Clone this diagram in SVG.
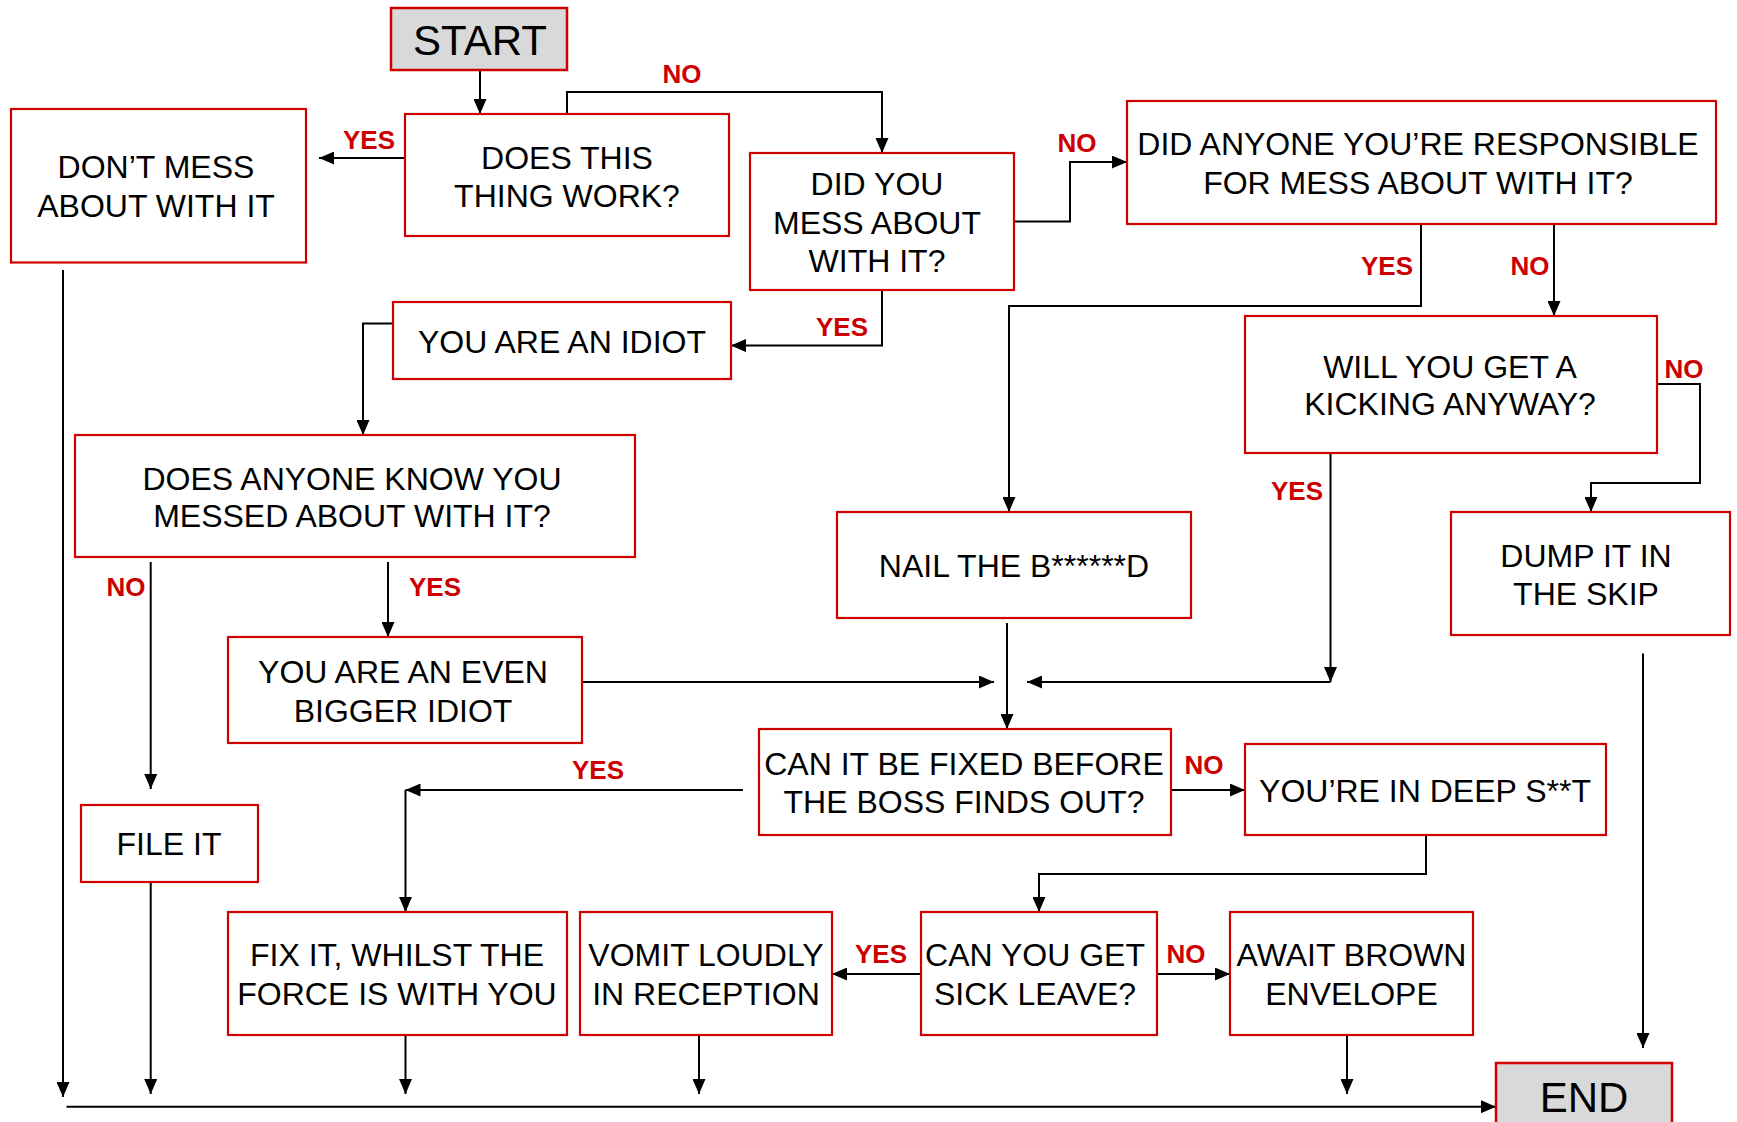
<svg xmlns="http://www.w3.org/2000/svg" width="1737" height="1122" viewBox="0 0 1737 1122">
<style>
.box{fill:#fff;stroke:#d00000;stroke-width:2.2}
.term{fill:#d9d9d9;stroke:#d00000;stroke-width:2.5}
.t{font-family:"Liberation Sans",Arial,sans-serif;font-size:32px;fill:#000;text-anchor:middle}
.big{font-family:"Liberation Sans",Arial,sans-serif;font-size:42px;fill:#000;text-anchor:middle}
.lab{font-family:"Liberation Sans",Arial,sans-serif;font-size:26px;font-weight:bold;fill:#cc0000;text-anchor:middle}
.c{fill:none;stroke:#000;stroke-width:2}
</style>
<defs>
<marker id="ah" viewBox="0 0 15 13" refX="15" refY="6.5" markerWidth="15" markerHeight="13" markerUnits="userSpaceOnUse" orient="auto">
<path d="M0,0 L15,6.5 L0,13 z" fill="#000"/>
</marker>
</defs>
<rect width="1737" height="1122" fill="#fff"/>
<g id="connectors">
<path class="c" d="M480,70 V114" marker-end="url(#ah)"/>
<path class="c" d="M567,114 V92 H882 V153" marker-end="url(#ah)"/>
<path class="c" d="M405,158 H319" marker-end="url(#ah)"/>
<path class="c" d="M1014,221.5 H1070 V162 H1127" marker-end="url(#ah)"/>
<path class="c" d="M882,290 V345.6 H731" marker-end="url(#ah)"/>
<path class="c" d="M393,323.5 H363 V435" marker-end="url(#ah)"/>
<path class="c" d="M1421,224 V306 H1009 V512" marker-end="url(#ah)"/>
<path class="c" d="M1554,224 V316" marker-end="url(#ah)"/>
<path class="c" d="M1657,384 H1700 V483 H1591 V512" marker-end="url(#ah)"/>
<path class="c" d="M1330.5,453 V682" marker-end="url(#ah)"/>
<path class="c" d="M1330.5,682 H1027" marker-end="url(#ah)"/>
<path class="c" d="M150.7,562 V789" marker-end="url(#ah)"/>
<path class="c" d="M388,562 V637" marker-end="url(#ah)"/>
<path class="c" d="M582,682 H994" marker-end="url(#ah)"/>
<path class="c" d="M1007,623 V729" marker-end="url(#ah)"/>
<path class="c" d="M743,790 H405.5" marker-end="url(#ah)"/>
<path class="c" d="M405.5,790 V912" marker-end="url(#ah)"/>
<path class="c" d="M1171,790 H1245" marker-end="url(#ah)"/>
<path class="c" d="M1426,835 V874 H1039 V912" marker-end="url(#ah)"/>
<path class="c" d="M921,974 H832" marker-end="url(#ah)"/>
<path class="c" d="M1157,974 H1230" marker-end="url(#ah)"/>
<path class="c" d="M63,270 V1097" marker-end="url(#ah)"/>
<path class="c" d="M150.7,882 V1094" marker-end="url(#ah)"/>
<path class="c" d="M405.5,1035 V1094" marker-end="url(#ah)"/>
<path class="c" d="M699,1035 V1094" marker-end="url(#ah)"/>
<path class="c" d="M1347,1035 V1094" marker-end="url(#ah)"/>
<path class="c" d="M1643,653.6 V1048" marker-end="url(#ah)"/>
<path class="c" d="M66.5,1106.7 H1496" stroke-width="2.5" marker-end="url(#ah)"/>
</g>
<g id="labels">
<text class="lab" x="682" y="83">NO</text>
<text class="lab" x="369" y="149">YES</text>
<text class="lab" x="1077" y="152">NO</text>
<text class="lab" x="842" y="336">YES</text>
<text class="lab" x="1387" y="275">YES</text>
<text class="lab" x="1530" y="275">NO</text>
<text class="lab" x="1684" y="378">NO</text>
<text class="lab" x="1297" y="500">YES</text>
<text class="lab" x="126" y="596">NO</text>
<text class="lab" x="435" y="596">YES</text>
<text class="lab" x="598" y="779">YES</text>
<text class="lab" x="1204" y="774">NO</text>
<text class="lab" x="881" y="963">YES</text>
<text class="lab" x="1186" y="963">NO</text>
</g>
<g id="start"><rect class="term" x="391" y="8" width="176" height="62"/><text class="big" x="480" y="55">START</text></g>
<g id="does-this-work"><rect class="box" x="405" y="114" width="324" height="122"/><text class="t" x="567" y="169">DOES THIS</text><text class="t" x="567" y="207">THING WORK?</text></g>
<g id="dont-mess"><rect class="box" x="11" y="109" width="295" height="153.5"/><text class="t" x="156" y="178">DON’T MESS</text><text class="t" x="156" y="216.5">ABOUT WITH IT</text></g>
<g id="did-you"><rect class="box" x="750" y="153" width="264" height="137"/><text class="t" x="877" y="195">DID YOU</text><text class="t" x="877" y="233.5">MESS ABOUT</text><text class="t" x="877" y="272">WITH IT?</text></g>
<g id="did-anyone"><rect class="box" x="1127" y="101" width="589" height="123"/><text class="t" x="1418" y="155">DID ANYONE YOU’RE RESPONSIBLE</text><text class="t" x="1418" y="193.5">FOR MESS ABOUT WITH IT?</text></g>
<g id="idiot"><rect class="box" x="393" y="302" width="338" height="77"/><text class="t" x="562" y="352.5">YOU ARE AN IDIOT</text></g>
<g id="kicking"><rect class="box" x="1245" y="316" width="412" height="137"/><text class="t" x="1450" y="377.5">WILL YOU GET A</text><text class="t" x="1450" y="415">KICKING ANYWAY?</text></g>
<g id="anyone-know"><rect class="box" x="75" y="435" width="560" height="122"/><text class="t" x="352" y="489.5">DOES ANYONE KNOW YOU</text><text class="t" x="352" y="527">MESSED ABOUT WITH IT?</text></g>
<g id="nail"><rect class="box" x="837" y="512" width="354" height="106"/><text class="t" x="1014" y="577">NAIL THE B******D</text></g>
<g id="dump"><rect class="box" x="1451" y="512" width="279" height="123"/><text class="t" x="1586" y="567">DUMP IT IN</text><text class="t" x="1586" y="605">THE SKIP</text></g>
<g id="bigger-idiot"><rect class="box" x="228" y="637" width="354" height="106"/><text class="t" x="403" y="683">YOU ARE AN EVEN</text><text class="t" x="403" y="721.5">BIGGER IDIOT</text></g>
<g id="fixed-before"><rect class="box" x="759" y="729" width="412" height="106"/><text class="t" x="964" y="775">CAN IT BE FIXED BEFORE</text><text class="t" x="964" y="813">THE BOSS FINDS OUT?</text></g>
<g id="deep"><rect class="box" x="1245" y="744" width="361" height="91"/><text class="t" x="1425" y="802">YOU’RE IN DEEP S**T</text></g>
<g id="file-it"><rect class="box" x="81" y="805" width="177" height="77"/><text class="t" x="169" y="855">FILE IT</text></g>
<g id="fix-it"><rect class="box" x="228" y="912" width="339" height="123"/><text class="t" x="397" y="966">FIX IT, WHILST THE</text><text class="t" x="397" y="1004.5">FORCE IS WITH YOU</text></g>
<g id="vomit"><rect class="box" x="580" y="912" width="252" height="123"/><text class="t" x="706" y="966">VOMIT LOUDLY</text><text class="t" x="706" y="1004.5">IN RECEPTION</text></g>
<g id="sick-leave"><rect class="box" x="921" y="912" width="236" height="123"/><text class="t" x="1035" y="966">CAN YOU GET</text><text class="t" x="1035" y="1004.5">SICK LEAVE?</text></g>
<g id="brown-envelope"><rect class="box" x="1230" y="912" width="243" height="123"/><text class="t" x="1351.5" y="966">AWAIT BROWN</text><text class="t" x="1351.5" y="1004.5">ENVELOPE</text></g>
<g id="end"><rect class="term" x="1496" y="1063" width="176" height="70"/><text class="big" x="1584" y="1112">END</text></g>
</svg>
